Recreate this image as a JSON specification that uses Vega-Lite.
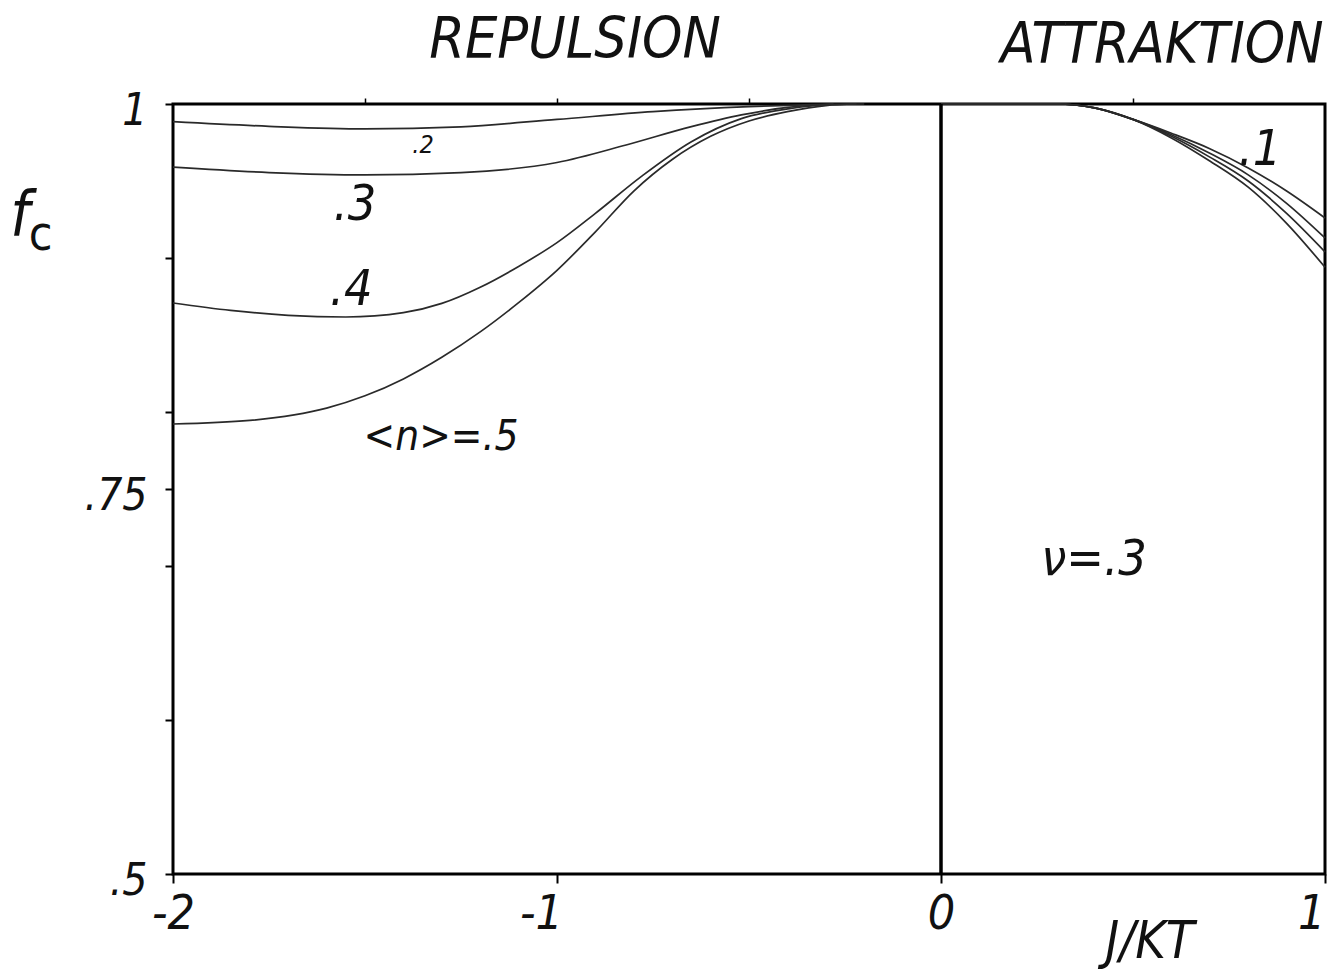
{
  "$schema": "https://vega.github.io/schema/vega-lite/v6.json",
  "width": 1152,
  "height": 770,
  "autosize": "none",
  "padding": {"left": 173, "top": 104, "right": 10, "bottom": 95},
  "background": "white",
  "config": {
    "view": {"stroke": "black", "strokeWidth": 3},
    "text": {"font": "Liberation Sans Narrow, DejaVu Sans Condensed, sans-serif", "fontStyle": "italic", "color": "#111"}
  },
  "datasets": {
    "curves": [
      {"J": -2.0, "f": 0.9885, "n": 0.2, "regime": "repulsion"},
      {"J": -1.75, "f": 0.9855, "n": 0.2, "regime": "repulsion"},
      {"J": -1.5, "f": 0.9838, "n": 0.2, "regime": "repulsion"},
      {"J": -1.25, "f": 0.9852, "n": 0.2, "regime": "repulsion"},
      {"J": -1.0, "f": 0.99, "n": 0.2, "regime": "repulsion"},
      {"J": -0.75, "f": 0.995, "n": 0.2, "regime": "repulsion"},
      {"J": -0.5, "f": 0.9983, "n": 0.2, "regime": "repulsion"},
      {"J": -0.3, "f": 0.9998, "n": 0.2, "regime": "repulsion"},
      {"J": -0.2, "f": 1.0, "n": 0.2, "regime": "repulsion"},

      {"J": -2.0, "f": 0.959, "n": 0.3, "regime": "repulsion"},
      {"J": -1.75, "f": 0.9555, "n": 0.3, "regime": "repulsion"},
      {"J": -1.5, "f": 0.954, "n": 0.3, "regime": "repulsion"},
      {"J": -1.25, "f": 0.9555, "n": 0.3, "regime": "repulsion"},
      {"J": -1.0, "f": 0.962, "n": 0.3, "regime": "repulsion"},
      {"J": -0.82, "f": 0.9734, "n": 0.3, "regime": "repulsion"},
      {"J": -0.65, "f": 0.9853, "n": 0.3, "regime": "repulsion"},
      {"J": -0.52, "f": 0.9929, "n": 0.3, "regime": "repulsion"},
      {"J": -0.4, "f": 0.9978, "n": 0.3, "regime": "repulsion"},
      {"J": -0.28, "f": 1.0, "n": 0.3, "regime": "repulsion"},

      {"J": -2.0, "f": 0.8708, "n": 0.4, "regime": "repulsion"},
      {"J": -1.85, "f": 0.8660, "n": 0.4, "regime": "repulsion"},
      {"J": -1.7, "f": 0.8628, "n": 0.4, "regime": "repulsion"},
      {"J": -1.55, "f": 0.8617, "n": 0.4, "regime": "repulsion"},
      {"J": -1.4, "f": 0.8645, "n": 0.4, "regime": "repulsion"},
      {"J": -1.3, "f": 0.8705, "n": 0.4, "regime": "repulsion"},
      {"J": -1.2, "f": 0.8810, "n": 0.4, "regime": "repulsion"},
      {"J": -1.1, "f": 0.8945, "n": 0.4, "regime": "repulsion"},
      {"J": -1.0, "f": 0.910, "n": 0.4, "regime": "repulsion"},
      {"J": -0.9, "f": 0.929, "n": 0.4, "regime": "repulsion"},
      {"J": -0.78, "f": 0.953, "n": 0.4, "regime": "repulsion"},
      {"J": -0.65, "f": 0.9755, "n": 0.4, "regime": "repulsion"},
      {"J": -0.52, "f": 0.9905, "n": 0.4, "regime": "repulsion"},
      {"J": -0.39, "f": 0.9972, "n": 0.4, "regime": "repulsion"},
      {"J": -0.28, "f": 1.0, "n": 0.4, "regime": "repulsion"},

      {"J": -2.0, "f": 0.7922, "n": 0.5, "regime": "repulsion"},
      {"J": -1.8, "f": 0.7945, "n": 0.5, "regime": "repulsion"},
      {"J": -1.6, "f": 0.8025, "n": 0.5, "regime": "repulsion"},
      {"J": -1.5, "f": 0.8105, "n": 0.5, "regime": "repulsion"},
      {"J": -1.4, "f": 0.8215, "n": 0.5, "regime": "repulsion"},
      {"J": -1.3, "f": 0.8355, "n": 0.5, "regime": "repulsion"},
      {"J": -1.2, "f": 0.852, "n": 0.5, "regime": "repulsion"},
      {"J": -1.1, "f": 0.871, "n": 0.5, "regime": "repulsion"},
      {"J": -1.0, "f": 0.892, "n": 0.5, "regime": "repulsion"},
      {"J": -0.9, "f": 0.917, "n": 0.5, "regime": "repulsion"},
      {"J": -0.8, "f": 0.9435, "n": 0.5, "regime": "repulsion"},
      {"J": -0.7, "f": 0.964, "n": 0.5, "regime": "repulsion"},
      {"J": -0.6, "f": 0.979, "n": 0.5, "regime": "repulsion"},
      {"J": -0.5, "f": 0.989, "n": 0.5, "regime": "repulsion"},
      {"J": -0.4, "f": 0.995, "n": 0.5, "regime": "repulsion"},
      {"J": -0.3, "f": 0.999, "n": 0.5, "regime": "repulsion"},
      {"J": -0.22, "f": 1.0, "n": 0.5, "regime": "repulsion"},

      {"J": 0.0, "f": 1.0, "n": 0.1, "regime": "attraction"},
      {"J": 0.3, "f": 1.0, "n": 0.1, "regime": "attraction"},
      {"J": 0.4, "f": 0.9975, "n": 0.1, "regime": "attraction"},
      {"J": 0.5, "f": 0.990, "n": 0.1, "regime": "attraction"},
      {"J": 0.6, "f": 0.981, "n": 0.1, "regime": "attraction"},
      {"J": 0.7, "f": 0.971, "n": 0.1, "regime": "attraction"},
      {"J": 0.8, "f": 0.9585, "n": 0.1, "regime": "attraction"},
      {"J": 0.9, "f": 0.9435, "n": 0.1, "regime": "attraction"},
      {"J": 1.0, "f": 0.926, "n": 0.1, "regime": "attraction"},

      {"J": 0.0, "f": 1.0, "n": 0.2, "regime": "attraction"},
      {"J": 0.3, "f": 1.0, "n": 0.2, "regime": "attraction"},
      {"J": 0.4, "f": 0.9975, "n": 0.2, "regime": "attraction"},
      {"J": 0.5, "f": 0.990, "n": 0.2, "regime": "attraction"},
      {"J": 0.6, "f": 0.980, "n": 0.2, "regime": "attraction"},
      {"J": 0.7, "f": 0.968, "n": 0.2, "regime": "attraction"},
      {"J": 0.8, "f": 0.954, "n": 0.2, "regime": "attraction"},
      {"J": 0.9, "f": 0.9355, "n": 0.2, "regime": "attraction"},
      {"J": 1.0, "f": 0.913, "n": 0.2, "regime": "attraction"},

      {"J": 0.0, "f": 1.0, "n": 0.3, "regime": "attraction"},
      {"J": 0.3, "f": 1.0, "n": 0.3, "regime": "attraction"},
      {"J": 0.4, "f": 0.9975, "n": 0.3, "regime": "attraction"},
      {"J": 0.5, "f": 0.990, "n": 0.3, "regime": "attraction"},
      {"J": 0.6, "f": 0.979, "n": 0.3, "regime": "attraction"},
      {"J": 0.7, "f": 0.9655, "n": 0.3, "regime": "attraction"},
      {"J": 0.8, "f": 0.950, "n": 0.3, "regime": "attraction"},
      {"J": 0.9, "f": 0.929, "n": 0.3, "regime": "attraction"},
      {"J": 1.0, "f": 0.904, "n": 0.3, "regime": "attraction"},

      {"J": 0.0, "f": 1.0, "n": 0.4, "regime": "attraction"},
      {"J": 0.3, "f": 1.0, "n": 0.4, "regime": "attraction"},
      {"J": 0.4, "f": 0.9975, "n": 0.4, "regime": "attraction"},
      {"J": 0.5, "f": 0.990, "n": 0.4, "regime": "attraction"},
      {"J": 0.6, "f": 0.978, "n": 0.4, "regime": "attraction"},
      {"J": 0.7, "f": 0.963, "n": 0.4, "regime": "attraction"},
      {"J": 0.8, "f": 0.946, "n": 0.4, "regime": "attraction"},
      {"J": 0.9, "f": 0.9225, "n": 0.4, "regime": "attraction"},
      {"J": 1.0, "f": 0.894, "n": 0.4, "regime": "attraction"}
    ],
    "annotations": [
      {"J": -0.953, "f": 1.0299, "text": "REPULSION", "role": "heading"},
      {"J": 0.5755, "f": 1.0266, "text": "ATTRAKTION", "role": "heading"},
      {"J": -1.349, "f": 0.9682, "text": ".2", "role": "small"},
      {"J": -1.526, "f": 0.9247, "text": ".3", "role": "curve"},
      {"J": -1.536, "f": 0.8695, "text": ".4", "role": "curve"},
      {"J": 0.8307, "f": 0.9604, "text": ".1", "role": "curve"},
      {"J": 0.3984, "f": 0.6942, "text": "ν=.3", "role": "curve"},
      {"J": -1.302, "f": 0.7753, "text": "<n>=.5", "role": "mid"},
      {"J": 0.5443, "f": 0.4455, "text": "J/KT", "role": "axis"},
      {"J": -2.398, "f": 0.9149, "text": "f", "role": "symbol"},
      {"J": -2.345, "f": 0.9055, "text": "c", "role": "subscript"}
    ]
  },
  "layer": [
    {
      "data": {"name": "curves"},
      "mark": {"type": "line", "interpolate": "monotone", "stroke": "#2a2a2a", "strokeWidth": 1.7},
      "encoding": {
        "x": {
          "field": "J", "type": "quantitative",
          "scale": {"domain": [-2, 1], "nice": false, "zero": false},
          "axis": {
            "title": null, "domain": false, "grid": false,
            "values": [-2, -1, 0, 1],
            "labelExpr": "datum.value == -2 ? '-2' : datum.value == -1 ? '-1' : datum.value == 0 ? '0' : '1'",
            "tickColor": "black", "tickWidth": 2, "tickSize": 9,
            "labelFont": "Liberation Sans Narrow, DejaVu Sans Condensed, sans-serif",
            "labelFontStyle": "italic", "labelFontSize": 48, "labelColor": "#111",
            "labelPadding": 7, "labelOverlap": false, "labelBound": false, "labelFlush": false,
            "labelAlign": {"condition": {"test": "datum.value == 1", "value": "right"}, "value": "center"},
            "labelOffset": {"condition": {"test": "datum.value == -1", "value": -16}, "value": 0}
          }
        },
        "y": {
          "field": "f", "type": "quantitative",
          "scale": {"domain": [0.5, 1], "nice": false, "zero": false},
          "axis": {
            "title": null, "domain": false, "grid": false,
            "values": [0.5, 0.6, 0.7, 0.75, 0.8, 0.9, 1],
            "labelExpr": "datum.value == 1 ? '1' : datum.value == 0.75 ? '.75' : datum.value == 0.5 ? '.5' : ''",
            "tickColor": "black", "tickWidth": 2, "tickSize": 8,
            "labelFont": "Liberation Sans Narrow, DejaVu Sans Condensed, sans-serif",
            "labelFontStyle": "italic", "labelFontSize": 44, "labelColor": "#111",
            "labelPadding": 18, "labelOffset": 7, "labelOverlap": false, "labelBound": false, "labelFlush": false
          }
        },
        "detail": [{"field": "regime"}, {"field": "n"}]
      }
    },
    {
      "data": {"values": [{"J": 0}]},
      "mark": {"type": "rule", "stroke": "black", "strokeWidth": 3.5},
      "encoding": {
        "x": {
          "field": "J", "type": "quantitative",
          "axis": {
            "orient": "top", "title": null, "domain": false, "grid": false, "labels": false,
            "values": [-1.5, -1, -0.5, 0.5],
            "tickColor": "black", "tickWidth": 1.5, "tickSize": 6
          }
        }
      }
    },
    {
      "data": {"name": "annotations"},
      "transform": [{"filter": "datum.role == 'heading'"}],
      "mark": {"type": "text", "fontSize": 57, "align": "center", "baseline": "alphabetic"},
      "encoding": {
        "x": {"field": "J", "type": "quantitative", "axis": null},
        "y": {"field": "f", "type": "quantitative"},
        "text": {"field": "text"}
      }
    },
    {
      "data": {"name": "annotations"},
      "transform": [{"filter": "datum.role == 'curve'"}],
      "mark": {"type": "text", "fontSize": 50, "align": "center", "baseline": "alphabetic"},
      "encoding": {
        "x": {"field": "J", "type": "quantitative", "axis": null},
        "y": {"field": "f", "type": "quantitative"},
        "text": {"field": "text"}
      }
    },
    {
      "data": {"name": "annotations"},
      "transform": [{"filter": "datum.role == 'mid'"}],
      "mark": {"type": "text", "fontSize": 42, "align": "center", "baseline": "alphabetic"},
      "encoding": {
        "x": {"field": "J", "type": "quantitative", "axis": null},
        "y": {"field": "f", "type": "quantitative"},
        "text": {"field": "text"}
      }
    },
    {
      "data": {"name": "annotations"},
      "transform": [{"filter": "datum.role == 'small'"}],
      "mark": {"type": "text", "fontSize": 25, "align": "center", "baseline": "alphabetic"},
      "encoding": {
        "x": {"field": "J", "type": "quantitative", "axis": null},
        "y": {"field": "f", "type": "quantitative"},
        "text": {"field": "text"}
      }
    },
    {
      "data": {"name": "annotations"},
      "transform": [{"filter": "datum.role == 'axis'"}],
      "mark": {"type": "text", "fontSize": 52, "align": "center", "baseline": "alphabetic"},
      "encoding": {
        "x": {"field": "J", "type": "quantitative", "axis": null},
        "y": {"field": "f", "type": "quantitative"},
        "text": {"field": "text"}
      }
    },
    {
      "data": {"name": "annotations"},
      "transform": [{"filter": "datum.role == 'symbol'"}],
      "mark": {"type": "text", "fontSize": 62, "align": "center", "baseline": "alphabetic"},
      "encoding": {
        "x": {"field": "J", "type": "quantitative", "axis": null},
        "y": {"field": "f", "type": "quantitative"},
        "text": {"field": "text"}
      }
    },
    {
      "data": {"name": "annotations"},
      "transform": [{"filter": "datum.role == 'subscript'"}],
      "mark": {"type": "text", "fontSize": 48, "align": "center", "baseline": "alphabetic", "fontStyle": "normal"},
      "encoding": {
        "x": {"field": "J", "type": "quantitative", "axis": null},
        "y": {"field": "f", "type": "quantitative"},
        "text": {"field": "text"}
      }
    }
  ],
  "resolve": {"axis": {"x": "independent"}}
}
